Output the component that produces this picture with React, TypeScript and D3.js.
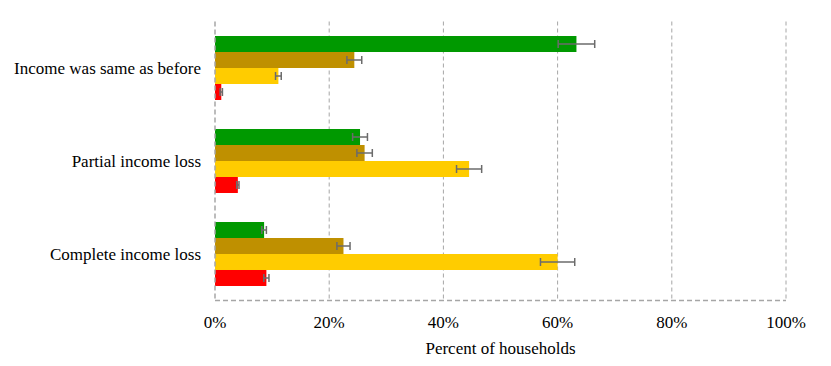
import * as React from 'react';
import * as d3 from 'd3';

const width = 831;
const height = 366;

// categories top to bottom
const categories = ['Income was same as before', 'Partial income loss', 'Complete income loss'];
const seriesNames = ['s1', 's2', 's3', 's4'];
const seriesColors = ['#009900', '#bf9000', '#ffcc00', '#ff0000'];

// percent values, one array per series (in category order)
const s1Values = [63.3, 25.4, 8.6];
const s2Values = [24.4, 26.2, 22.5];
const s3Values = [11.1, 44.5, 60.0];
const s4Values = [1.1, 4.0, 9.0];

// error half-widths
const s1Errors = [3.2, 1.3, 0.4];
const s2Errors = [1.3, 1.35, 1.15];
const s3Errors = [0.5, 2.2, 3.0];
const s4Errors = [0.2, 0.2, 0.45];

const xTicks = [0, 20, 40, 60, 80, 100];

const margin = {top: 21.5, right: 45, bottom: 65.5, left: 215};

const values = [s1Values, s2Values, s3Values, s4Values];
const errors = [s1Errors, s2Errors, s3Errors, s4Errors];

const gridColor = '#a6a6a6';
const errColor = '#6b6b6b';
const fam = 'Liberation Serif';
const fs = 17;

export default function App() {
  const x = d3.scaleLinear().domain([0, 100]).range([margin.left, width - margin.right]);
  const y = d3.scaleBand<string>()
    .domain(categories)
    .range([margin.top, height - margin.bottom])
    .paddingInner(0.312)
    .paddingOuter(0.156);
  const ySub = d3.scaleBand<string>().domain(seriesNames).range([0, y.bandwidth()]);
  const bottom = height - margin.bottom;

  return (
    <svg width={width} height={height}
      style={{position: 'absolute', left: 0, top: 0, background: '#fff'}}>
      {/* gridlines */}
      {xTicks.slice(1).map(t => (
        <line key={t} x1={x(t)} x2={x(t)} y1={margin.top} y2={bottom}
          stroke={gridColor} strokeWidth={1} strokeDasharray="4,3" />
      ))}

      {categories.map((c, ci) => (
        <g key={c} transform={`translate(0,${y(c)})`}>
          {seriesNames.map((s, si) => (
            <rect key={s} x={x(0)} y={ySub(s)} width={x(values[si][ci]) - x(0)}
              height={ySub.bandwidth()} fill={seriesColors[si]} />
          ))}
          {seriesNames.map((s, si) => {
            const cy = ySub(s)! + ySub.bandwidth() / 2;
            const lo = x(values[si][ci] - errors[si][ci]);
            const hi = x(values[si][ci] + errors[si][ci]);
            return (
              <g key={s} stroke={errColor} strokeWidth={1.5}>
                <line x1={lo} x2={hi} y1={cy} y2={cy} />
                <line x1={lo} x2={lo} y1={cy - 4} y2={cy + 4} />
                <line x1={hi} x2={hi} y1={cy - 4} y2={cy + 4} />
              </g>
            );
          })}
        </g>
      ))}

      {/* axis lines */}
      <line x1={x(0)} x2={x(100)} y1={bottom} y2={bottom}
        stroke={gridColor} strokeWidth={1.5} strokeDasharray="5,3" />
      <line x1={x(0)} x2={x(0)} y1={margin.top} y2={bottom}
        stroke={gridColor} strokeWidth={1.5} strokeDasharray="5,3" />

      {xTicks.map(t => (
        <text key={t} x={x(t)} y={328} textAnchor="middle" fontSize={fs} fontFamily={fam}>{`${t}%`}</text>
      ))}
      {categories.map(c => (
        <text key={c} x={201} y={y(c)! + y.bandwidth() / 2 + 6} textAnchor="end" fontSize={fs} fontFamily={fam}>{c}</text>
      ))}
      <text x={x(50)} y={354} textAnchor="middle" fontSize={fs} fontFamily={fam}>Percent of households</text>
    </svg>
  );
}
